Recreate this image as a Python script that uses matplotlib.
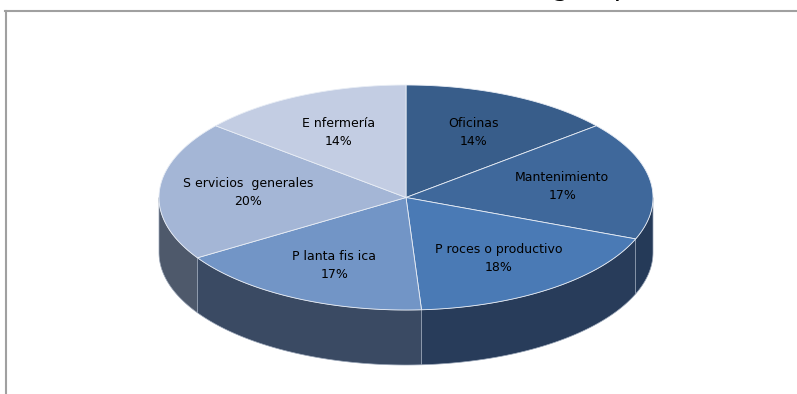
import numpy as np
import matplotlib
matplotlib.use("Agg")
import matplotlib.pyplot as plt
from matplotlib.patches import Polygon
from matplotlib.lines import Line2D

categories = ["Oficinas", "Mantenimiento", "Proceso productivo", "Planta física",
              "Servicios generales", "Enfermería"]
display_names = ["Oficinas", "Mantenimiento", "P roces o productivo", "P lanta fis ica",
                 "S ervicios  generales", "E nfermería"]
values = [14, 17, 18, 17, 20, 14]
top_colors = ["#385D8A", "#3F689B", "#4A7AB5", "#7295C6", "#A4B6D6", "#C3CDE3"]
side_colors = ["#263B59", "#253A58", "#283C5A", "#3A4A63", "#4E596B", "#5E6878"]
title = "Distribución según puesto"

W, H = 797, 394
fig = plt.figure(figsize=(W / 100, H / 100), dpi=100)
ax = fig.add_axes([0, 0, 1, 1])
ax.set_xlim(0, W)
ax.set_ylim(H, 0)
ax.axis("off")

cx, cy, a, b, depth = 406, 197.5, 247, 112.5, 55


def pt(t_deg, dy=0.0):
    t = np.radians(t_deg)
    return cx + a * np.sin(t), cy - b * np.cos(t) + dy


total = float(sum(values))
bounds = np.concatenate([[0], np.cumsum(values) / total * 360.0])

# side walls (front half only, t in [90, 270])
for i in range(len(values)):
    s0, s1 = max(bounds[i], 90), min(bounds[i + 1], 270)
    if s1 <= s0:
        continue
    ts = np.linspace(s0, s1, 80)
    top = [pt(t) for t in ts]
    bot = [pt(t, depth) for t in ts[::-1]]
    ax.add_patch(Polygon(top + bot, closed=True, facecolor=side_colors[i],
                         edgecolor="#9AA6B8", linewidth=0.5, zorder=1))

# top faces
for i in range(len(values)):
    ts = np.linspace(bounds[i], bounds[i + 1], 120)
    poly = [(cx, cy)] + [pt(t) for t in ts]
    ax.add_patch(Polygon(poly, closed=True, facecolor=top_colors[i],
                         edgecolor="#E8EDF5", linewidth=0.6, zorder=2))

# labels
for i in range(len(values)):
    mid = (bounds[i] + bounds[i + 1]) / 2
    t = np.radians(mid)
    lx = cx + 0.64 * a * np.sin(t)
    ly = cy - 0.64 * b * np.cos(t) + 4 * max(0.0, -np.cos(t))
    ax.text(lx, ly - 9, display_names[i], ha="center", va="center", fontsize=9,
            family="DejaVu Sans", color="black", zorder=3)
    ax.text(lx, ly + 9, f"{values[i]}%", ha="center", va="center", fontsize=9,
            family="DejaVu Sans", color="black", zorder=3)

# chart border (top and left visible)
ax.add_line(Line2D([5.5, W], [11, 11], color="#A0A0A0", linewidth=1.5, zorder=4))
ax.add_line(Line2D([6, 6], [11, H], color="#A0A0A0", linewidth=1.5, zorder=4))

# title, mostly cut off above the figure; align 'g' with its descender position
fig.canvas.draw()
renderer = fig.canvas.get_renderer()
prefix = title[:title.index("g")]
tmp = ax.text(0, 0, prefix, fontsize=20, family="DejaVu Sans")
wpx = tmp.get_window_extent(renderer).width
tmp.remove()
gx = 552
ax.text(gx - wpx, -5.5, title, fontsize=20, family="DejaVu Sans", ha="left",
        va="baseline", color="black", clip_on=False)

fig.savefig("out.png", dpi=100)
